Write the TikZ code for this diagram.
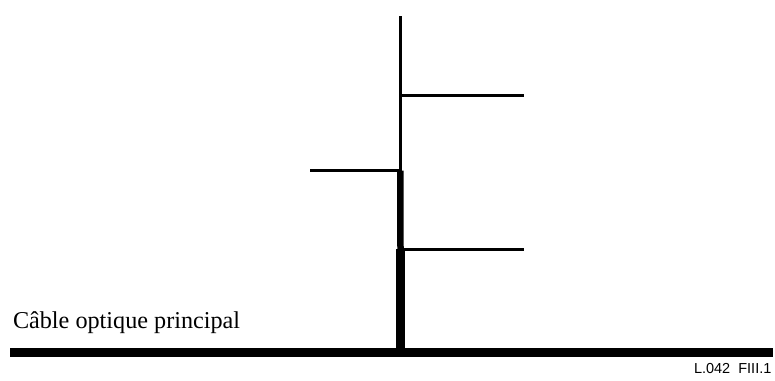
\documentclass[tikz,border=0pt]{standalone}
\usepackage{fontspec}
\setmainfont{Liberation Serif}
\newfontfamily\arialfont{Liberation Sans}
\begin{document}
\begin{tikzpicture}[x=1pt,y=-1pt,
  cable/.style={line cap=butt},
  branch/.style={line width=3pt},
  lbl/.style={inner sep=0pt,outer sep=0pt}]
\useasboundingbox (0,0) rectangle (775,380);
% coordinates
\coordinate (mainL) at (10,352.2);
\coordinate (mainR) at (773,352.2);
\coordinate (top) at (400.3,16);
\coordinate (j1) at (400.3,95.3);
\coordinate (j2) at (400.3,170.7);
\coordinate (j3) at (400.5,249.3);
\coordinate (base) at (400.5,352.2);
\coordinate (b1) at (524,95.3);
\coordinate (b2) at (310,170.7);
\coordinate (b3) at (524,249.3);
% main cable
\draw[cable,line width=9pt] (mainL) -- (mainR);
% vertical trunk, thickening downward
\draw[cable,line width=2.7pt] (top) -- (j1);
\draw[cable,line width=3.5pt] (j1) -- (j2);
\draw[cable,line width=6.5pt] (j2) -- (j3);
\draw[cable,line width=9pt] (j3) -- (base);
% branches
\draw[branch] (j1) -- (b1);
\draw[branch] (j2) -- (b2);
\draw[branch] (j3) -- (b3);
% labels
\node[lbl,anchor=base west,font=\fontsize{24.2}{27}\selectfont] (t1) at (13,328.5) {Câble optique principal};
\node[lbl,anchor=base west,font=\arialfont\fontsize{14.5}{16}\selectfont] (t2) at (694,373.5) {L.042\ \ FIII.1};
\end{tikzpicture}
\end{document}
